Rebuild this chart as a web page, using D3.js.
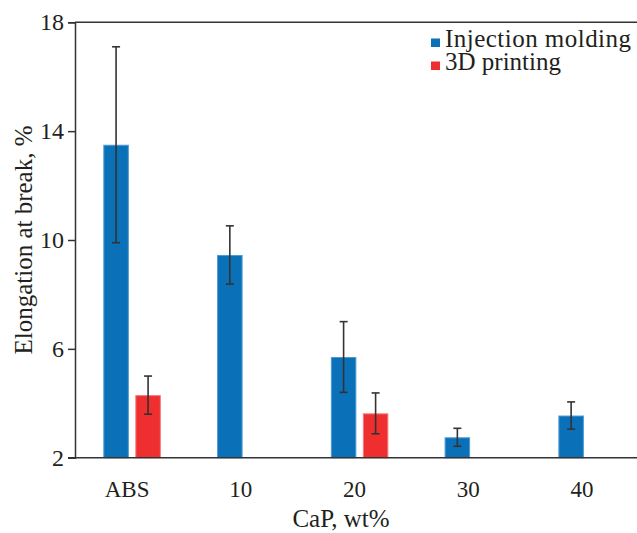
<!DOCTYPE html>
<html>
<head>
<meta charset="utf-8">
<script src="https://cdn.jsdelivr.net/npm/d3@7/dist/d3.min.js"></script>
<style>
  html, body { margin: 0; padding: 0; background: #fff; }
  svg { display: block; }
  text { font-family: "Liberation Serif", "Times New Roman", serif; fill: #231f20; }
</style>
</head>
<body>
<svg id="chart" width="637" height="533"></svg>
<script>
// ---- data ----
const categories = ["ABS", "10", "20", "30", "40"];
const seriesNames = ["Injection molding", "3D printing"];
const injectionValues = [13.5, 9.45, 5.7, 2.75, 3.55];
const injectionErrors = [3.6, 1.07, 1.3, 0.33, 0.5];
const printingValues = [4.3, null, 3.63, null, null];
const printingErrors = [0.7, null, 0.75, null, null];
const yTicks = [2, 6, 10, 14, 18];
const xTitle = "CaP, wt%";
const yTitle = "Elongation at break, %";

// ---- layout ----
const M = { left: 75, right: 637, top: 22.3, bottom: 457.7 };
const colors = { "Injection molding": "#0a71b9", "3D printing": "#ee2e2f" };
const strokes = { "Injection molding": "#4d9ad3", "3D printing": "#f47a7b" };
const ink = "#333333";

const svg = d3.select("#chart");

const y = d3.scaleLinear().domain([2, 18]).range([M.bottom, M.top]);
const x0 = d3.scaleBand().domain(categories)
  .range([M.left, 644.2]).paddingInner(0.4945).paddingOuter(0.249);
const x1 = d3.scaleBand().domain(seriesNames)
  .range([0, x0.bandwidth()]).paddingInner(0.203).paddingOuter(0);

// data rows
const rows = [];
categories.forEach((c, i) => {
  rows.push({ cat: c, series: seriesNames[0], v: injectionValues[i], e: injectionErrors[i] });
  if (printingValues[i] != null)
    rows.push({ cat: c, series: seriesNames[1], v: printingValues[i], e: printingErrors[i] });
});

// bars
svg.append("g").selectAll("rect").data(rows).join("rect")
  .attr("x", d => x0(d.cat) + x1(d.series) + 0.5)
  .attr("width", x1.bandwidth() - 1)
  .attr("y", d => y(d.v) + 0.5)
  .attr("height", d => y(2) - y(d.v) - 0.5)
  .attr("fill", d => colors[d.series])
  .attr("stroke", d => strokes[d.series])
  .attr("stroke-width", 1);

// error bars
const eg = svg.append("g").attr("stroke", ink).attr("stroke-width", 1.6);
rows.forEach(d => {
  const cx = x0(d.cat) + x1(d.series) + x1.bandwidth() / 2;
  const hi = y(d.v + d.e), lo = y(d.v - d.e);
  eg.append("line").attr("x1", cx).attr("x2", cx).attr("y1", hi).attr("y2", lo);
  eg.append("line").attr("x1", cx - 4).attr("x2", cx + 4).attr("y1", hi).attr("y2", hi);
  eg.append("line").attr("x1", cx - 4).attr("x2", cx + 4).attr("y1", lo).attr("y2", lo);
});

// y axis
const yAxis = svg.append("g").attr("transform", `translate(${M.left},0)`)
  .call(d3.axisLeft(y).tickValues(yTicks).tickSize(7).tickPadding(4).tickFormat(d3.format("d")));
yAxis.select(".domain").attr("stroke", ink).attr("stroke-width", 1.5);
yAxis.selectAll(".tick line").attr("stroke", ink).attr("stroke-width", 1.5);
yAxis.selectAll(".tick text").style("font-size", "24px").attr("fill", "#231f20")
  .style("font-family", "'Liberation Serif', serif");

// top frame line
svg.append("line").attr("x1", M.left).attr("x2", M.right).attr("y1", y(18)).attr("y2", y(18))
  .attr("stroke", ink).attr("stroke-width", 1.5);

// x axis
const xAxis = svg.append("g").attr("transform", `translate(0,${M.bottom})`)
  .call(d3.axisBottom(x0).tickSize(0).tickPadding(23));
xAxis.select(".domain").remove();
xAxis.selectAll(".tick text").attr("dx", -5).style("font-size", "23px").attr("fill", "#231f20")
  .style("font-family", "'Liberation Serif', serif");
svg.append("line").attr("x1", M.left - 7).attr("x2", M.right).attr("y1", M.bottom).attr("y2", M.bottom)
  .attr("stroke", ink).attr("stroke-width", 1.5);

// axis titles
svg.append("text").attr("x", 341).attr("y", 527).attr("text-anchor", "middle")
  .style("font-size", "25px").text(xTitle);
svg.append("text").attr("transform", "translate(32,240) rotate(-90)").attr("text-anchor", "middle")
  .style("font-size", "25px").text(yTitle);

// legend
const lg = svg.append("g");
seriesNames.forEach((s, i) => {
  const by = 47 + i * 23;
  lg.append("rect").attr("x", 431).attr("y", by - 8.5).attr("width", 9).attr("height", 8.5)
    .attr("fill", colors[s]);
  lg.append("text").attr("x", 445).attr("y", by).style("font-size", "25px")
    .attr("textLength", i === 0 ? 186 : null).text(s);
});
</script>
</body>
</html>
